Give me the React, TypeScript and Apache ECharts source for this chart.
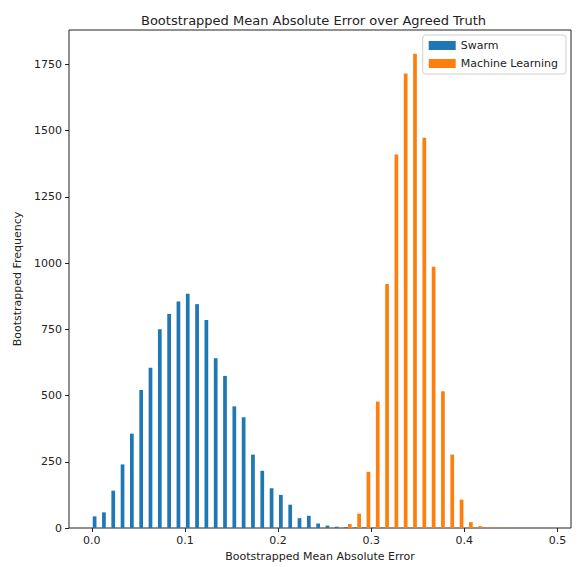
import React, { useEffect, useRef } from "react";
import * as echarts from "echarts";

const TITLE = "Bootstrapped Mean Absolute Error over Agreed Truth";
const X_NAME = "Bootstrapped Mean Absolute Error";
const Y_NAME = "Bootstrapped Frequency";
const SERIES_NAMES = ["Swarm", "Machine Learning"];
const SERIES_COLORS = ["#1f77b4", "#ff7f0e"];

const BIN_START = 0;
const BIN_WIDTH = 0.01;

// counts per bin (49 bins of width 0.01 starting at 0)
const SWARM_COUNTS = [
  44, 59, 141, 240, 356, 521, 605, 750, 808, 855, 884, 845, 785, 641, 574, 459,
  418, 277, 216, 150, 125, 88, 37, 46, 17, 9, 5, 3, 2, 2, 1, 1, 0, 0, 0, 0, 0,
  0, 0, 0, 0, 0, 0, 0, 0, 0, 0, 0, 0,
];
const ML_COUNTS = [
  0, 0, 0, 0, 0, 0, 0, 0, 0, 0, 0, 0, 0, 0, 0, 0, 0, 0, 0, 0, 0, 0, 0, 0, 0, 2,
  3, 15, 54, 212, 477, 921, 1410, 1715, 1790, 1473, 986, 516, 277, 107, 22, 7,
  3, 2, 0, 0, 0, 0, 0,
];

const X_TICKS = [0, 0.1, 0.2, 0.3, 0.4, 0.5];
const Y_TICKS = [0, 250, 500, 750, 1000, 1250, 1500, 1750];

const FONT = "DejaVu Sans";
const TEXT_COLOR = "#222";

function makeSeries(name: string, color: string, counts: number[], index: number) {
  const nx = 2;
  const dr = 0.8;
  const barW = (dr * BIN_WIDTH) / nx;
  const leftOffset = (BIN_WIDTH * (1 - dr)) / 2 + index * barW;
  return {
    type: "custom",
    name,
    itemStyle: { color },
    encode: { x: 0, y: 1 },
    data: counts.map((c, i) => [BIN_START + i * BIN_WIDTH, c]),
    renderItem: (params: any, api: any) => {
      const x0 = api.value(0);
      const c = api.value(1);
      if (!(c > 0)) return null;
      const l = x0 + leftOffset;
      const p1 = api.coord([l, c]);
      const p2 = api.coord([l + barW, 0]);
      return {
        type: "rect",
        shape: { x: p1[0], y: p1[1], width: p2[0] - p1[0], height: p2[1] - p1[1] },
        style: { fill: color },
      };
    },
  };
}

export default function App() {
  const ref = useRef<HTMLDivElement>(null);
  useEffect(() => {
    if (!ref.current) return;
    const chart = echarts.init(ref.current, undefined, { renderer: "svg" });
    const maxCount = Math.max(...SWARM_COUNTS, ...ML_COUNTS);
    const nBins = SWARM_COUNTS.length;
    const dataMin = BIN_START;
    const dataMax = BIN_START + nBins * BIN_WIDTH;
    const margin = (dataMax - dataMin) * 0.05;
    chart.setOption({
      animation: false,
      backgroundColor: "#fff",
      textStyle: { fontFamily: FONT },
      title: {
        text: TITLE,
        left: 136,
        top: 9,
        textStyle: { fontFamily: FONT, fontSize: 13, fontWeight: "normal", color: TEXT_COLOR },
      },
      legend: {
        data: SERIES_NAMES.map((n) => ({ name: n, icon: "rect" })),
        orient: "vertical",
        right: 15,
        top: 35,
        itemWidth: 27,
        itemHeight: 9,
        itemGap: 7,
        padding: [5, 8, 5, 6],
        borderColor: "#cfcfcf",
        borderWidth: 1,
        borderRadius: 3,
        backgroundColor: "rgba(255,255,255,0.8)",
        textStyle: { fontFamily: FONT, fontSize: 11, color: TEXT_COLOR },
      },
      grid: {
        left: 69,
        right: 10,
        top: 30,
        bottom: 36.5,
        show: true,
        borderColor: "#222",
        borderWidth: 1,
        backgroundColor: "transparent",
        containLabel: false,
      },
      xAxis: {
        type: "value",
        min: dataMin - margin,
        max: dataMax + margin,
        name: X_NAME,
        nameLocation: "middle",
        nameGap: 23,
        nameTextStyle: { fontFamily: FONT, fontSize: 11, color: TEXT_COLOR },
        splitLine: { show: false },
        axisLine: { show: false, onZero: false },
        axisTick: { show: true, length: 4, customValues: X_TICKS, lineStyle: { color: "#222" } },
        axisLabel: {
          customValues: X_TICKS,
          formatter: (v: number) => v.toFixed(1),
          margin: 7,
          fontFamily: FONT,
          fontSize: 11,
          color: TEXT_COLOR,
        },
      },
      yAxis: {
        type: "value",
        min: 0,
        max: maxCount * 1.05,
        name: Y_NAME,
        nameLocation: "middle",
        nameRotate: 90,
        nameGap: 34,
        nameTextStyle: { fontFamily: FONT, fontSize: 11, color: TEXT_COLOR },
        splitLine: { show: false },
        axisLine: { show: false, onZero: false },
        axisTick: { show: true, length: 4, customValues: Y_TICKS, lineStyle: { color: "#222" } },
        axisLabel: {
          customValues: Y_TICKS,
          formatter: (v: number) => String(v),
          margin: 7,
          fontFamily: FONT,
          fontSize: 11,
          color: TEXT_COLOR,
        },
      },
      series: [
        makeSeries(SERIES_NAMES[0], SERIES_COLORS[0], SWARM_COUNTS, 0),
        makeSeries(SERIES_NAMES[1], SERIES_COLORS[1], ML_COUNTS, 1),
      ],
    });
    return () => chart.dispose();
  }, []);
  return (
    <div
      ref={ref}
      style={{ position: "fixed", left: 0, top: 0, width: 581, height: 567, background: "#fff" }}
    />
  );
}
